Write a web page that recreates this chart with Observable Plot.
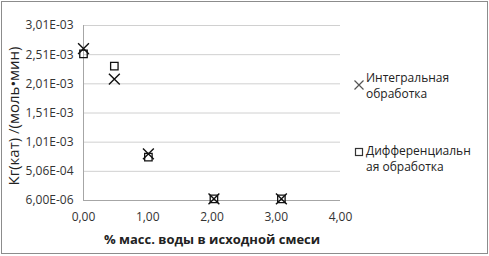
<!DOCTYPE html>
<html><head><meta charset="utf-8">
<script src="https://cdn.jsdelivr.net/npm/d3@7"></script>
<script src="https://cdn.jsdelivr.net/npm/@observablehq/plot@0.6"></script>
<style>
body{margin:0;background:#fff;}
#wrap{position:relative;width:489px;height:256px;overflow:hidden;font-family:"Open Sans",sans-serif;}
#border{position:absolute;left:1px;top:1px;width:485px;height:251px;border:1.5px solid #8c8c8c;pointer-events:none;}
.leg{position:absolute;font-size:12px;color:#222;line-height:14px;white-space:nowrap;}
.sym{position:absolute;}
</style></head>
<body><div id="wrap"><div id="chart"></div>
<div class="leg" style="left:366px;top:71px;">Интегральная</div>
<div class="leg" style="left:366px;top:87px;">обработка</div>
<div class="leg" style="left:366px;top:144px;">Дифференциальн</div>
<div class="leg" style="left:366px;top:160px;">ая обработка</div>
<svg class="sym" style="left:352px;top:78px" width="14" height="14"><path d="M2.5,2.5L11.5,11.5M11.5,2.5L2.5,11.5" stroke="#555" stroke-width="1.2"/></svg>
<svg class="sym" style="left:352px;top:145px" width="14" height="14"><rect x="3.5" y="3.5" width="7" height="7" fill="none" stroke="#333" stroke-width="1.2"/></svg>
<div id="border"></div></div>
<script>
const xInt = [0, 0.48, 1.01, 2.03, 3.08];
const yInt = [2.61e-3, 2.086e-3, 8.06e-4, 3.5e-5, 3.5e-5];
const xDiff = [0, 0.48, 1.01, 2.03, 3.08];
const yDiff = [2.52e-3, 2.31e-3, 7.5e-4, 3.5e-5, 3.5e-5];
const yTicks = [6e-6, 5.06e-4, 1.006e-3, 1.506e-3, 2.006e-3, 2.506e-3, 3.006e-3];
const yTickLabels = ["6,00E-06", "5,06E-04", "1,01E-03", "1,51E-03", "2,01E-03", "2,51E-03", "3,01E-03"];
const xTicks = [0, 1, 2, 3, 4];
const xTickLabels = ["0,00", "1,00", "2,00", "3,00", "4,00"];
const xTitle = "% масс. воды в исходной смеси";
const yTitle = "Кг(кат) /(моль•мин)";

const intData = xInt.map((x, i) => ({x, y: yInt[i]}));
const diffData = xDiff.map((x, i) => ({x, y: yDiff[i]}));

const plot = Plot.plot({
  width: 489, height: 256,
  marginLeft: 83, marginRight: 149, marginTop: 25, marginBottom: 56,
  style: {fontFamily: "'Open Sans', sans-serif", fontSize: "12px", color: "#333", background: "transparent"},
  x: {domain: [0, 4], label: null},
  y: {domain: [6e-6, 3.006e-3], label: null},
  marks: [
    Plot.gridY(yTicks, {stroke: "#d0d0d0", strokeOpacity: 1}),
    Plot.ruleX([0], {stroke: "#a6a6a6"}),
    Plot.ruleY([6e-6], {stroke: "#a6a6a6"}),
    Plot.axisX({ticks: xTicks, tickFormat: (d) => xTickLabels[xTicks.indexOf(d)], tickSize: 0, tickPadding: 12, label: null, fontSize: 12}),
    Plot.axisY({ticks: yTicks, tickFormat: (d) => yTickLabels[yTicks.indexOf(d)], tickSize: 0, tickPadding: 10, label: null, fontSize: 12}),
    Plot.dot(diffData, {x: "x", y: "y", symbol: "square", r: 4.2, stroke: "#111", strokeWidth: 1.3, fill: "none"}),
    Plot.dot(intData, {x: "x", y: "y", symbol: "times", r: 5, stroke: "#111", strokeWidth: 1.4}),
    Plot.text([xTitle], {frameAnchor: "bottom", dy: 43, fontWeight: "bold", fontSize: 13, fill: "#222"}),
    Plot.text([yTitle], {frameAnchor: "left", textAnchor: "middle", dx: -69, dy: 3, rotate: -90, fontSize: 15, fill: "#222"})
  ]
});
document.getElementById("chart").appendChild(plot);
</script></body></html>
